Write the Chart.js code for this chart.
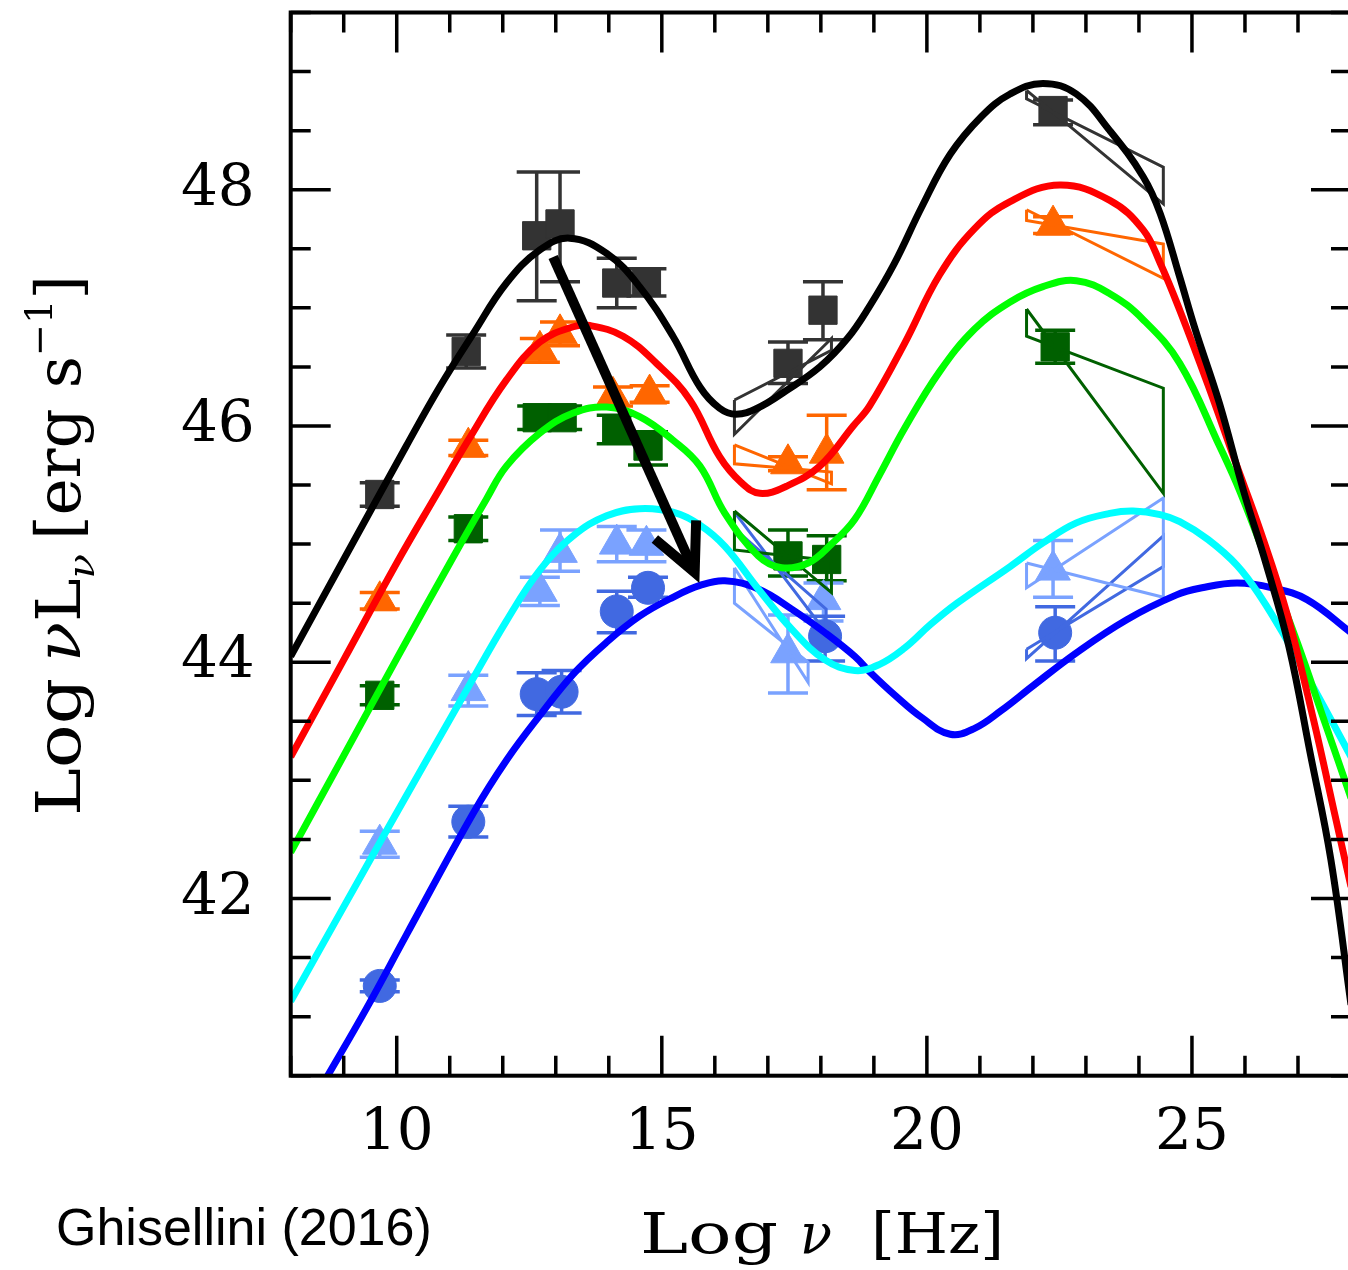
<!DOCTYPE html>
<html lang="en">
<head>
<meta charset="UTF-8">
<title>Blazar SED sequence</title>
<script src="https://cdn.jsdelivr.net/npm/chart.js"></script>
<style>
  html, body { margin: 0; padding: 0; background: #fff; overflow: hidden; }
  #wrap { width: 1348px; height: 1270px; overflow: hidden; }
  canvas { display: block; }
</style>
</head>
<body>
<div id="wrap"><canvas id="sed" width="1360" height="1270"></canvas></div>
<script>
// model SEDs: log nu [Hz] vs log nuLnu [erg/s]
const blackX = [8.0, 9.0, 10.18, 10.81, 11.44, 12.07, 12.70, 13.26, 13.96, 14.58, 15.21, 15.72, 16.09, 16.4, 16.8, 17.35, 17.98, 18.5, 18.9, 19.38, 19.91, 20.44, 21.03, 21.57, 22.19, 22.82, 23.45, 24.08, 24.40, 24.77, 25.06, 25.52, 25.98, 26.4, 26.83, 27.23, 27.62, 28.0];
const blackY = [44.05, 44.87, 45.83, 46.33, 46.78, 47.21, 47.49, 47.59, 47.46, 47.18, 46.76, 46.33, 46.15, 46.10, 46.15, 46.30, 46.50, 46.74, 47.00, 47.37, 47.86, 48.30, 48.62, 48.81, 48.90, 48.81, 48.50, 48.11, 47.80, 47.26, 46.82, 46.19, 45.44, 44.83, 44.13, 43.23, 42.33, 41.1];

const redX = [8.0, 9.0, 10.0, 10.75, 11.35, 12.07, 12.70, 13.33, 13.64, 14.27, 14.9, 15.53, 16.09, 16.5, 16.85, 17.35, 17.98, 18.61, 18.92, 19.58, 20.24, 20.90, 21.57, 22.51, 23.45, 24.08, 24.40, 24.77, 25.3, 25.8, 26.3, 26.8, 27.3, 27.7, 28.0];
const redY = [43.20, 44.02, 44.84, 45.42, 45.88, 46.39, 46.71, 46.84, 46.85, 46.76, 46.53, 46.22, 45.74, 45.52, 45.43, 45.49, 45.66, 46.00, 46.17, 46.70, 47.28, 47.67, 47.90, 48.04, 47.91, 47.66, 47.38, 46.98, 46.35, 45.72, 45.10, 44.40, 43.50, 42.70, 42.10];

const greenX = [8.0, 9.0, 10.0, 11.04, 11.69, 12.07, 12.70, 13.33, 13.96, 14.58, 15.21, 15.72, 16.19, 16.82, 17.26, 17.76, 18.2, 18.64, 19.1, 19.58, 20.24, 20.90, 21.57, 22.19, 22.82, 23.45, 24.08, 24.77, 25.52, 25.91, 26.5, 27.0, 27.5, 28.0];
const greenY = [42.39, 43.21, 44.03, 44.87, 45.38, 45.66, 45.94, 46.11, 46.16, 46.08, 45.88, 45.66, 45.26, 44.90, 44.80, 44.84, 45.00, 45.21, 45.58, 45.98, 46.46, 46.82, 47.05, 47.18, 47.23, 47.12, 46.90, 46.53, 45.83, 45.44, 44.75, 44.15, 43.50, 42.85];

const cyanX = [8.0, 9.74, 11.35, 12.07, 12.70, 13.33, 13.96, 14.58, 15.21, 15.72, 16.19, 16.82, 17.45, 18.08, 18.64, 19.1, 19.58, 20.07, 20.57, 21.57, 22.19, 22.82, 23.45, 23.89, 24.40, 24.77, 25.3, 25.85, 26.3, 26.8, 27.3, 28.0];
const cyanY = [41.13, 42.52, 43.79, 44.35, 44.78, 45.07, 45.24, 45.30, 45.27, 45.16, 44.98, 44.62, 44.28, 44.02, 43.93, 43.98, 44.12, 44.32, 44.50, 44.81, 45.01, 45.18, 45.26, 45.28, 45.25, 45.19, 45.04, 44.82, 44.55, 44.18, 43.78, 43.20];

const blueX = [8.62, 9.43, 10.18, 11.44, 12.07, 12.70, 13.33, 13.96, 14.58, 15.21, 15.72, 16.19, 16.82, 17.45, 18.08, 18.64, 18.92, 19.4, 19.91, 20.44, 20.9, 21.4, 22.0, 22.82, 23.77, 24.71, 25.19, 25.85, 26.51, 27.17, 28.0];
const blueY = [40.44, 41.07, 41.69, 42.72, 43.17, 43.55, 43.90, 44.17, 44.39, 44.55, 44.65, 44.69, 44.62, 44.45, 44.25, 44.05, 43.92, 43.72, 43.53, 43.39, 43.44, 43.59, 43.80, 44.08, 44.36, 44.57, 44.63, 44.67, 44.63, 44.53, 44.25];

// observed points with error bars
const blkX  = [9.68, 11.31, 12.64, 13.08, 14.15, 14.71, 17.38, 18.04, 22.38];
const blkY  = [45.42, 46.63, 47.61, 47.71, 47.21, 47.22, 46.53, 46.98, 48.67];
const blkHi = [45.52, 46.77, 48.15, 48.15, 47.42, 47.33, 46.71, 47.22, 48.76];
const blkLo = [45.32, 46.49, 47.06, 47.22, 47.00, 47.10, 46.36, 46.73, 48.55];

const orgX  = [9.68, 11.35, 12.70, 13.08, 14.08, 14.77, 17.38, 18.11, 22.38];
const orgY  = [44.52, 45.82, 46.64, 46.78, 46.25, 46.27, 45.68, 45.77, 47.70];
const orgHi = [44.59, 45.88, 46.74, 46.88, 46.33, 46.34, 45.74, 46.09, 47.77];
const orgLo = [44.45, 45.75, 46.54, 46.68, 46.17, 46.20, 45.62, 45.46, 47.63];

const dgX  = [9.68, 11.35, 12.65, 13.12, 14.15, 14.74, 17.38, 18.11, 22.42];
const dgY  = [43.72, 45.13, 46.07, 46.07, 45.97, 45.83, 44.90, 44.87, 46.67];
const dgHi = [43.80, 45.23, 46.17, 46.17, 46.09, 45.95, 45.12, 45.07, 46.81];
const dgLo = [43.64, 45.03, 45.97, 45.97, 45.85, 45.67, 44.73, 44.69, 46.53];

const lbX  = [9.68, 11.35, 12.70, 13.08, 14.15, 14.71, 17.38, 18.05, 22.38];
const lbY  = [42.46, 43.76, 44.60, 44.93, 45.00, 44.99, 44.08, 44.53, 44.78];
const lbHi = [42.57, 43.89, 44.72, 45.12, 45.15, 45.12, 44.40, 44.67, 45.03];
const lbLo = [42.35, 43.63, 44.48, 44.77, 44.85, 44.85, 43.74, 44.35, 44.55];

const rbX  = [9.68, 11.35, 12.64, 13.11, 14.15, 14.74, 18.08, 22.42];
const rbY  = [41.26, 42.65, 43.73, 43.75, 44.43, 44.63, 44.22, 44.25];
const rbHi = [41.31, 42.78, 43.91, 43.93, 44.60, 44.72, 44.39, 44.47];
const rbLo = [41.21, 42.52, 43.55, 43.57, 44.25, 44.55, 44.01, 44.01];

// bow ties: [left x, right x], line A [left, right], line B [left, right]
const xrayEdges = [16.37, 18.2];
const blkXrA = [46.22, 46.64], blkXrB = [45.93, 46.74];
const orgXrA = [45.84, 45.51], orgXrB = [45.68, 45.61];
const dgXrA  = [45.28, 44.59], dgXrB  = [44.95, 44.86];
const lbXrEdges = [16.37, 17.76];
const lbXrA  = [44.80, 43.83], lbXrB  = [44.50, 44.00];
const rbXrEdges = [16.37, 18.1];
const rbXrA  = [45.27, 44.25], rbXrB  = [45.13, 44.45];

const gamEdges = [21.88, 24.46];
const blkGaA = [48.84, 47.88], blkGaB = [48.77, 48.19];
const orgGaA = [47.83, 47.25], orgGaB = [47.74, 47.54];
const dgGaA  = [46.99, 45.43], dgGaB  = [46.76, 46.32];
const lbGaA  = [44.84, 44.55], lbGaB  = [44.63, 45.39];
const rbGaA  = [44.11, 44.81], rbGaB  = [44.03, 45.07];

// arrow showing the sequence trend
const arrowX = [12.95, 15.62];
const arrowY = [47.43, 44.76];

const C_BLK = '#333333', C_ORG = '#ff6600', C_DG = '#006000', C_LB = '#7aa2ff', C_RB = '#4169e1';

function curve(xs, ys, color, order) {
  return {
    type: 'line', data: xs.map((x, i) => ({x: x, y: ys[i]})),
    borderColor: color, borderWidth: 7, pointRadius: 0, fill: false,
    tension: 0.4, clip: 0, order: order
  };
}

function points(xs, ys, lo, hi, color, style, r) {
  return {
    type: 'scatter', data: xs.map((x, i) => ({x: x, y: ys[i]})),
    backgroundColor: color, borderColor: color, borderWidth: 1,
    pointStyle: style, pointRadius: r, pointHoverRadius: r,
    errLo: lo, errHi: hi, order: 6
  };
}

function bowtie(edges, a, b, color) {
  return {
    type: 'line',
    data: [
      {x: edges[0], y: a[0]}, {x: edges[1], y: a[1]},
      {x: edges[1], y: b[1]}, {x: edges[0], y: b[0]},
      {x: edges[0], y: a[0]}
    ],
    borderColor: color, borderWidth: 3, pointRadius: 0, tension: 0,
    fill: false, clip: 0, order: 5
  };
}

const errorBars = {
  id: 'errorBars',
  beforeDatasetsDraw(chart) {
    const ctx = chart.ctx, xs = chart.scales.x, ys = chart.scales.y;
    chart.data.datasets.forEach(ds => {
      if (!ds.errLo) return;
      ctx.save();
      ctx.strokeStyle = ds.borderColor;
      ctx.lineWidth = 3.5;
      ctx.beginPath();
      ds.data.forEach((p, i) => {
        const px = xs.getPixelForValue(p.x);
        const yl = ys.getPixelForValue(ds.errLo[i]);
        const yh = ys.getPixelForValue(ds.errHi[i]);
        ctx.moveTo(px, yl); ctx.lineTo(px, yh);
        ctx.moveTo(px - 20, yl); ctx.lineTo(px + 20, yl);
        ctx.moveTo(px - 20, yh); ctx.lineTo(px + 20, yh);
      });
      ctx.stroke();
      ctx.restore();
    });
  }
};

const arrow = {
  id: 'arrow',
  afterDatasetsDraw(chart) {
    const ctx = chart.ctx, xs = chart.scales.x, ys = chart.scales.y;
    const x0 = xs.getPixelForValue(arrowX[0]), y0 = ys.getPixelForValue(arrowY[0]);
    const x1 = xs.getPixelForValue(arrowX[1]), y1 = ys.getPixelForValue(arrowY[1]);
    const ang = Math.atan2(y1 - y0, x1 - x0);
    const head = 52, spread = 0.45;
    ctx.save();
    ctx.strokeStyle = '#000';
    ctx.lineWidth = 10;
    ctx.beginPath();
    ctx.moveTo(x0, y0); ctx.lineTo(x1, y1);
    ctx.stroke();
    ctx.beginPath();
    ctx.moveTo(x1 - head * Math.cos(ang - spread), y1 - head * Math.sin(ang - spread));
    ctx.lineTo(x1, y1);
    ctx.lineTo(x1 - head * Math.cos(ang + spread), y1 - head * Math.sin(ang + spread));
    ctx.stroke();
    ctx.restore();
  }
};

function drawGroup(ctx, runs, x0, x1, baseY, size) {
  const fontOf = r => (r.italic ? 'italic ' : '') + Math.round(size * (r.scale || 1)) + 'px "DejaVu Serif"';
  let total = 0;
  const widths = runs.map(r => {
    ctx.font = fontOf(r);
    const w = ctx.measureText(r.t).width;
    total += w;
    return w;
  });
  const sx = (x1 - x0) / total;
  ctx.save();
  ctx.translate(x0, baseY);
  ctx.scale(sx, 1);
  let cx = 0;
  runs.forEach((r, i) => {
    ctx.font = fontOf(r);
    ctx.fillText(r.t, cx, (r.dy || 0) * size);
    cx += widths[i];
  });
  ctx.restore();
}

const frameAndText = {
  id: 'frameAndText',
  afterDraw(chart) {
    const ctx = chart.ctx, a = chart.chartArea, xs = chart.scales.x, ys = chart.scales.y;
    ctx.save();
    ctx.strokeStyle = '#000';
    ctx.lineWidth = 3.5;
    ctx.beginPath();
    xs.ticks.forEach(t => {
      const px = xs.getPixelForValue(t.value);
      const len = t.value % 5 === 0 ? 40 : 20;
      ctx.moveTo(px, a.bottom); ctx.lineTo(px, a.bottom - len);
      ctx.moveTo(px, a.top); ctx.lineTo(px, a.top + len);
    });
    ys.ticks.forEach(t => {
      const py = ys.getPixelForValue(t.value);
      const len = t.value % 2 === 0 ? 40 : 20;
      ctx.moveTo(a.left, py); ctx.lineTo(a.left + len, py);
      ctx.moveTo(a.right, py); ctx.lineTo(a.right - len, py);
    });
    ctx.stroke();
    ctx.lineWidth = 4;
    ctx.strokeRect(a.left, a.top, a.right - a.left, a.bottom - a.top);

    ctx.fillStyle = '#000';
    ctx.textAlign = 'left';
    ctx.textBaseline = 'alphabetic';
    // x axis title
    drawGroup(ctx, [{t: 'Log'}], 640, 778, 1253, 56);
    drawGroup(ctx, [{t: 'ν', italic: true}], 800, 832, 1253, 56);
    drawGroup(ctx, [{t: '[Hz]'}], 871, 1004, 1253, 56);

    // y axis title, rotated
    ctx.save();
    ctx.translate(80, 816);
    ctx.rotate(-Math.PI / 2);
    drawGroup(ctx, [{t: 'Log'}], 0, 138, 0, 62);
    drawGroup(ctx, [{t: 'ν', italic: true}, {t: 'L'}, {t: 'ν', italic: true, scale: 0.62, dy: 0.22}], 154, 262, 0, 62);
    drawGroup(ctx, [{t: '[erg s'}, {t: '−1', scale: 0.62, dy: -0.45}, {t: ']'}], 276, 541, 0, 62);
    ctx.restore();

    ctx.font = '52px "Liberation Sans"';
    ctx.fillText('Ghisellini (2016)', 56, 1245);
    ctx.restore();
  }
};

const datasets = [
  curve(blackX, blackY, '#000000', 0),
  curve(redX, redY, '#ff0000', 1),
  curve(greenX, greenY, '#00ff00', 2),
  curve(cyanX, cyanY, '#00ffff', 3),
  curve(blueX, blueY, '#0000ff', 4),
  bowtie(xrayEdges, blkXrA, blkXrB, C_BLK),
  bowtie(xrayEdges, orgXrA, orgXrB, C_ORG),
  bowtie(xrayEdges, dgXrA, dgXrB, C_DG),
  bowtie(lbXrEdges, lbXrA, lbXrB, C_LB),
  bowtie(rbXrEdges, rbXrA, rbXrB, C_RB),
  bowtie(gamEdges, blkGaA, blkGaB, C_BLK),
  bowtie(gamEdges, orgGaA, orgGaB, C_ORG),
  bowtie(gamEdges, dgGaA, dgGaB, C_DG),
  bowtie(gamEdges, lbGaA, lbGaB, C_LB),
  bowtie(gamEdges, rbGaA, rbGaB, C_RB),
  points(blkX, blkY, blkLo, blkHi, C_BLK, 'rect', 20),
  points(orgX, orgY, orgLo, orgHi, C_ORG, 'triangle', 20),
  points(dgX, dgY, dgLo, dgHi, C_DG, 'rect', 20),
  points(lbX, lbY, lbLo, lbHi, C_LB, 'triangle', 20),
  points(rbX, rbY, rbLo, rbHi, C_RB, 'circle', 16.5)
];

const tickFont = {family: 'DejaVu Serif', size: 58};

new Chart(document.getElementById('sed'), {
  type: 'scatter',
  data: {datasets: datasets},
  options: {
    responsive: false,
    animation: false,
    devicePixelRatio: 1,
    layout: {autoPadding: false, padding: {left: 0, right: 9, top: 12.5, bottom: 0}},
    plugins: {legend: {display: false}, tooltip: {enabled: false}},
    events: [],
    scales: {
      x: {
        type: 'linear', min: 8, max: 28,
        grid: {display: false, drawTicks: false},
        border: {display: false},
        ticks: {
          stepSize: 1, autoSkip: false, maxRotation: 0, minRotation: 0,
          padding: 23, color: '#000', font: tickFont,
          callback: v => (v % 5 === 0 && v >= 10 && v <= 25) ? String(v) : ''
        },
        afterFit: s => { s.height = 194.3; s.paddingLeft = 0; s.paddingRight = 0; }
      },
      y: {
        type: 'linear', min: 40.5, max: 49.5,
        grid: {display: false, drawTicks: false},
        border: {display: false},
        ticks: {
          stepSize: 0.5, autoSkip: false, padding: 36, color: '#000', font: tickFont,
          callback: v => (v % 2 === 0 && v >= 42 && v <= 48) ? String(v) : ''
        },
        afterFit: s => { s.width = 290.7; s.paddingTop = 0; s.paddingBottom = 0; }
      }
    }
  },
  plugins: [errorBars, arrow, frameAndText]
});
</script>
</body>
</html>
